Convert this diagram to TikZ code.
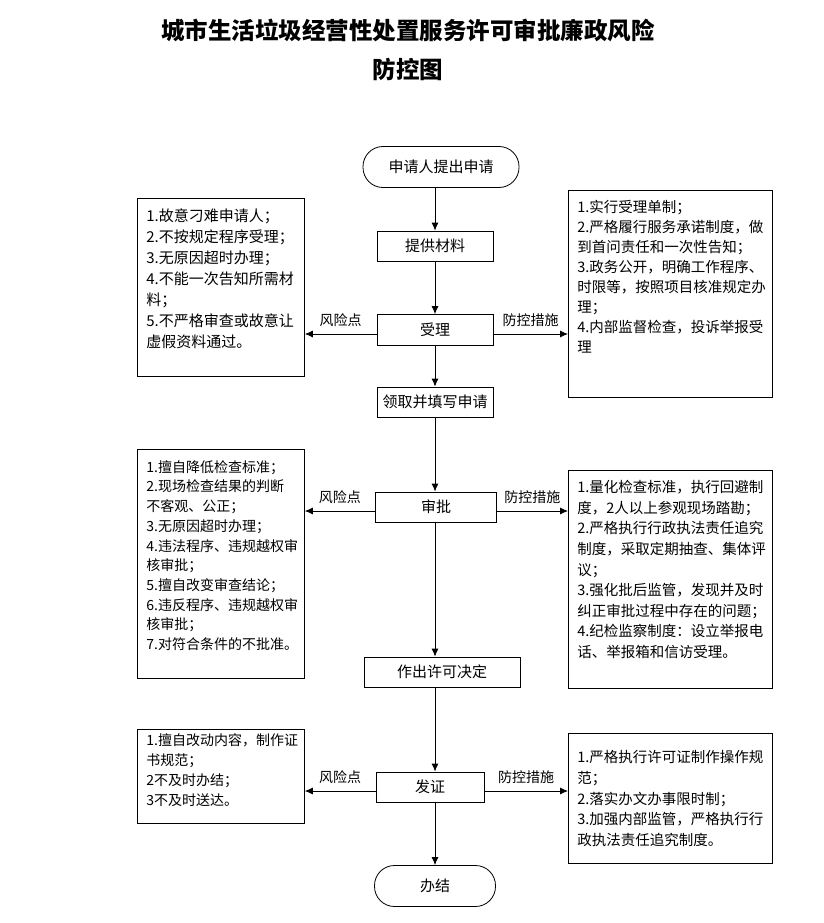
\documentclass[tikz,border=0pt]{standalone}
\usepackage{fontspec}
\setmainfont{Noto Sans CJK SC}
\usetikzlibrary{arrows.meta,positioning}

\begin{document}
\begin{tikzpicture}[x=1pt, y=-1pt,
 line width=0.8pt,
    B/.style = {rectangle, draw, minimum height=30pt, inner sep=0pt,% steps on the spine
                font=\fontsize{15}{18}\selectfont},
    T/.style = {B, rounded corners=20pt, minimum height=41pt},% start and end
    R/.style = {rectangle, draw, anchor=north west, inner sep=0pt},% risk / measure boxes
    L/.style = {anchor=north west, align=left, inner sep=0pt,
                font=\fontsize{15}{21}\selectfont},
    A/.style = {-{Latex[length=8pt,width=7pt]}},
    W/.style = {font=\fontsize{14}{16}\selectfont, above=6pt, inner sep=1pt}
                        ]
\useasboundingbox (0,0) rectangle (823,923);
% title
\node[font=\fontsize{23.5}{28}\selectfont\bfseries] (title1) at (408,30) {城市生活垃圾经营性处置服务许可审批廉政风险};
\node[font=\fontsize{23.5}{28}\selectfont\bfseries] (title2) at (408,69) {防控图};
% spine
\node[T, minimum width=156pt] (start) at (441,167) {申请人提出申请};
\node[B, minimum width=116pt] (tg) at (435,246) {提供材料};
\node[B, minimum width=116pt, minimum height=31pt] (sl) at (435,330) {受理};
\node[B, minimum width=116pt] (lq) at (435,402) {领取并填写申请};
\node[B, minimum width=121pt] (sp) at (436,507) {审批};
\node[B, minimum width=156pt] (jd) at (442,672) {作出许可决定};
\node[B, minimum width=108pt] (fz) at (430,787) {发证};
\node[T, minimum width=121pt] (bj) at (435,886) {办结};
\coordinate (spine) at (435,0);
\foreach \a/\b in {start/tg,tg/sl,sl/lq,lq/sp,sp/jd,jd/fz,fz/bj}
    \draw[A] (\a.south -| spine) -- (\b.north -| spine);
% risk boxes (left) and measure boxes (right)
\node[R, minimum width=167pt, minimum height=178pt] (l1) at (137,198) {};
\node[R, minimum width=204pt, minimum height=207pt] (r1) at (568,190) {};
\node[R, minimum width=167pt, minimum height=229pt] (l2) at (137,449) {};
\node[R, minimum width=204pt, minimum height=218pt] (r2) at (568,470) {};
\node[R, minimum width=167pt, minimum height=94pt] (l3) at (137,729) {};
\node[R, minimum width=204pt, minimum height=130pt] (r3) at (568,733) {};
\node[L] (l1t) at ([xshift=9pt,yshift=-10pt]l1.north west)
    {1.故意刁难申请人；\\2.不按规定程序受理；\\3.无原因超时办理；\\4.不能一次告知所需材\\料；\\5.不严格审查或故意让\\虚假资料通过。};
\node[L, font=\fontsize{14.5}{20}\selectfont] (r1t) at ([xshift=9pt,yshift=-10pt]r1.north west)
    {1.实行受理单制；\\2.严格履行服务承诺制度，做\\到首问责任和一次性告知；\\3.政务公开，明确工作程序、\\时限等，按照项目核准规定办\\理；\\4.内部监督检查，投诉举报受\\理};
\node[L, font=\fontsize{14}{19.7}\selectfont] (l2t) at ([xshift=9pt,yshift=-11pt]l2.north west)
    {1.擅自降低检查标准；\\2.现场检查结果的判断\\不客观、公正；\\3.无原因超时办理；\\4.违法程序、违规越权审\\核审批；\\5.擅自改变审查结论；\\6.违反程序、违规越权审\\核审批；\\7.对符合条件的不批准。};
\node[L, font=\fontsize{14.5}{20.6}\selectfont] (r2t) at ([xshift=9pt,yshift=-10pt]r2.north west)
    {1.量化检查标准，执行回避制\\度，2人以上参观现场踏勘；\\2.严格执行行政执法责任追究\\制度，采取定期抽查、集体评\\议；\\3.强化批后监管，发现并及时\\纠正审批过程中存在的问题；\\4.纪检监察制度：设立举报电\\话、举报箱和信访受理。};
\node[L, font=\fontsize{14}{20}\selectfont] (l3t) at ([xshift=9pt,yshift=-4pt]l3.north west)
    {1.擅自改动内容，制作证\\书规范；\\2不及时办结；\\3不及时送达。};
\node[L, font=\fontsize{14.5}{20.7}\selectfont] (r3t) at ([xshift=9pt,yshift=-17pt]r3.north west)
    {1.严格执行许可证制作操作规\\范；\\2.落实办文办事限时制；\\3.加强内部监管，严格执行行\\政执法责任追究制度。};
% side arrows
\foreach \s/\l/\r in {sl/l1/r1,sp/l2/r2,fz/l3/r3}{
    \draw[A] ([yshift=-4pt]\s.west) -- node[W] {风险点} ([yshift=-4pt]\s.west -| \l.east);
    \draw[A] ([yshift=-4pt]\s.east) -- node[W] {防控措施} ([yshift=-4pt]\s.east -| \r.west);
}
\end{tikzpicture}
\end{document}
